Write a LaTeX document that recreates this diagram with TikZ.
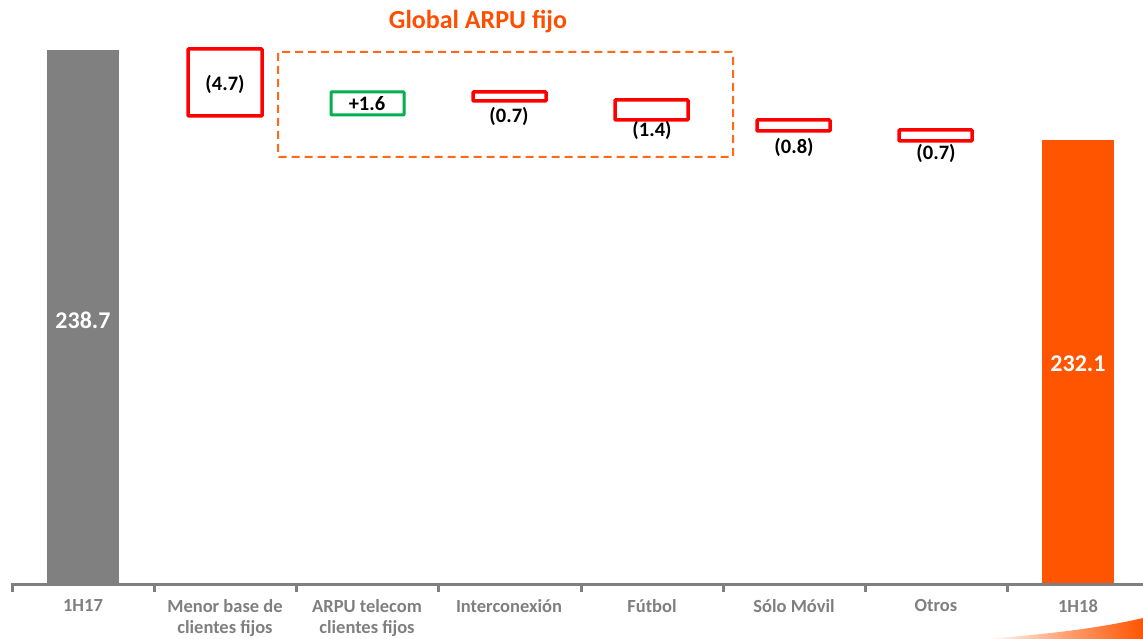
\documentclass[tikz,border=0pt]{standalone}
\usepackage{fontspec}
\setmainfont{Carlito}
\usetikzlibrary{positioning}
\definecolor{barGray}{HTML}{808080}
\definecolor{axisGray}{HTML}{7F7F7F}
\definecolor{telOrange}{HTML}{FF5500}
\definecolor{dashOrange}{HTML}{FF6A1A}
\definecolor{titleOrange}{HTML}{FF4E00}
\definecolor{negRed}{HTML}{FF0000}
\definecolor{posGreen}{HTML}{00B050}
\tikzset{
  negbox/.style={draw=negRed, line width=3.5pt, fill=white, rounded corners=0.8pt},
  posbox/.style={draw=posGreen, line width=3pt, fill=white, rounded corners=0.8pt},
  vallabel/.style={font=\bfseries\fontsize{20.5}{22}\selectfont, text=black, inner sep=0pt},
  barlabel/.style={font=\bfseries\fontsize{24}{26}\selectfont, text=white, inner sep=0pt},
  catlabel/.style={font=\bfseries\fontsize{18.5}{21}\selectfont, text=axisGray, align=center, inner sep=0pt, anchor=north},
  axisline/.style={draw=axisGray, line width=3pt},
  tickline/.style={draw=axisGray, line width=3pt},
}
\begin{document}
\begin{tikzpicture}[x=1pt, y=-1pt]
\useasboundingbox (0,0) rectangle (1143,639);

% decorative swoosh in the lower right corner
\shade[left color=white, right color=telOrange, middle color=telOrange!55]
  (985,639) .. controls (1050,634) and (1100,628) .. (1143,618) -- (1143,639) -- cycle;

% totals
\fill[barGray] (47,50) rectangle (119,583);
\fill[telOrange] (1042,140) rectangle (1114,583);
\node[barlabel] (v1) at (83,320) {238.7};
\node[barlabel] (v8) at (1078,364) {232.1};

% grouping frame and its title
\draw[dashOrange, line width=2pt, dash pattern=on 8pt off 5pt, rounded corners=1pt]
  (278,52) rectangle (733,157);
\node[font=\bfseries\fontsize{26}{28}\selectfont, text=titleOrange, inner sep=0pt] (title) at (478,22) {Global ARPU fijo};

% step boxes
\draw[negbox] (188,49) rectangle (262,116);
\node[vallabel] (v2) at (225,84) {(4.7)};

\draw[posbox] (331,92) rectangle (404,115);
\node[vallabel] (v3) at (367,103.5) {+1.6};

\draw[negbox] (473,92) rectangle (546,101);
\node[vallabel] (v4) at (509,116) {(0.7)};

\draw[negbox] (615,100) rectangle (688,120);
\node[vallabel] (v5) at (652,130) {(1.4)};

\draw[negbox] (757,120) rectangle (830,131);
\node[vallabel] (v6) at (794,147) {(0.8)};

\draw[negbox] (899,130) rectangle (972,141);
\node[vallabel] (v7) at (936,153) {(0.7)};

% category axis
\draw[axisline] (11,584) -- (1143,584);
\foreach \t in {12,154,296,438,581,723,865,1007}
  \draw[tickline] (\t,584) -- (\t,592);

\node[catlabel] (c1) at (83,599.5) {1H17};
\node[catlabel] (c2) at (225,599.5) {Menor base de\\clientes fijos};
\node[catlabel] (c3) at (367,599.5) {ARPU telecom\\clientes fijos};
\node[catlabel] (c4) at (509,599.5) {Interconexión};
\node[catlabel] (c5) at (652,599.5) {Fútbol};
\node[catlabel] (c6) at (794,599.5) {Sólo Móvil};
\node[catlabel] (c7) at (936,599.5) {Otros};
\node[catlabel] (c8) at (1078,599.5) {1H18};
\end{tikzpicture}
\end{document}
